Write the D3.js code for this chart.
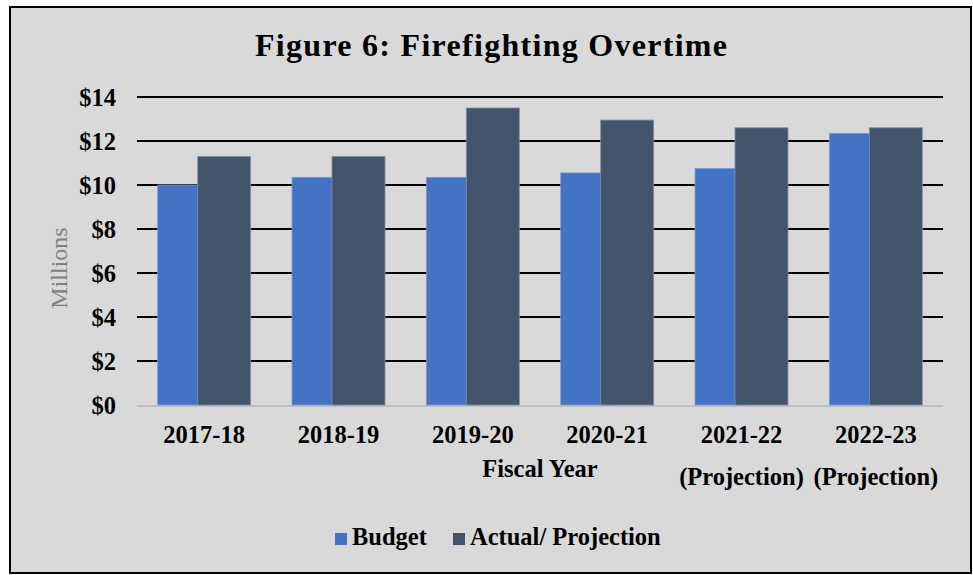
<!DOCTYPE html>
<html>
<head>
<meta charset="utf-8">
<script src="https://cdn.jsdelivr.net/npm/d3@7"></script>
<style>
  html, body { margin: 0; padding: 0; background: #ffffff; }
  svg { display: block; }
  text { font-family: "Liberation Serif", "Times New Roman", serif; }
</style>
</head>
<body>
<script>
const categories = ["2017-18", "2018-19", "2019-20", "2020-21", "2021-22", "2022-23"];
const categorySubLabels = ["", "", "", "", "(Projection)", "(Projection)"];
const budgetValues = [10.0, 10.35, 10.35, 10.55, 10.75, 12.35];
const actualValues = [11.3, 11.3, 13.5, 12.95, 12.6, 12.6];
const seriesNames = ["Budget", "Actual/ Projection"];
const yTickValues = [0, 2, 4, 6, 8, 10, 12, 14];

const W = 973, H = 575;
const colors = ["#4472c4", "#44546a"];
const FS = 24.5;

const svg = d3.select("body").append("svg").attr("width", W).attr("height", H);

// frame
svg.append("rect").attr("x", 10).attr("y", 7).attr("width", 961).attr("height", 566)
  .attr("fill", "#d9d9d9").attr("stroke", "#000").attr("stroke-width", 2);

const x0 = d3.scaleBand().domain(categories).range([137, 943]).paddingInner(0.308).paddingOuter(0.154);
const y = d3.scaleLinear().domain([0, 14]).range([405, 97]);

// gridlines
svg.append("g").selectAll("line").data(yTickValues.filter(v => v > 0)).join("line")
  .attr("x1", 137).attr("x2", 943)
  .attr("y1", d => y(d)).attr("y2", d => y(d))
  .attr("stroke", "#000").attr("stroke-width", 2);

// baseline
svg.append("line").attr("x1", 137).attr("x2", 943).attr("y1", y(0) + 1).attr("y2", y(0) + 1)
  .attr("stroke", "#bfbfbf").attr("stroke-width", 2);

// bars
const bw = x0.bandwidth();
const barW = bw * 0.57;
const rows = categories.map((c, i) => ({ c, b: budgetValues[i], a: actualValues[i] }));

const g = svg.append("g");
g.selectAll("rect.b").data(rows).join("rect").attr("class", "b")
  .attr("x", d => x0(d.c)).attr("width", barW)
  .attr("y", d => y(d.b)).attr("height", d => y(0) - y(d.b))
  .attr("fill", colors[0]).attr("stroke", "#7f9bd2").attr("stroke-width", 0.8);
g.selectAll("rect.a").data(rows).join("rect").attr("class", "a")
  .attr("x", d => x0(d.c) + bw - barW).attr("width", barW)
  .attr("y", d => y(d.a)).attr("height", d => y(0) - y(d.a))
  .attr("fill", colors[1]).attr("stroke", "#8090a5").attr("stroke-width", 0.8);

// y axis labels
const yAxis = d3.axisLeft(y).tickValues(yTickValues).tickFormat(d => "$" + d).tickSize(0).tickPadding(0);
const ya = svg.append("g").attr("transform", "translate(116,0)").call(yAxis);
ya.select(".domain").remove();
ya.selectAll("text").attr("font-family", "Liberation Serif, serif").attr("font-weight", "bold")
  .attr("font-size", FS).attr("fill", "#000").attr("dy", "0.35em");

// x axis labels
const xAxis = d3.axisBottom(x0).tickSize(0).tickPadding(0);
const xa = svg.append("g").call(xAxis);
xa.select(".domain").remove();
xa.selectAll(".tick text").remove();
xa.selectAll(".tick").each(function(d, i) {
  const t = d3.select(this);
  t.append("text").attr("y", 443).attr("text-anchor", "middle")
    .attr("font-family", "Liberation Serif, serif").attr("font-weight", "bold")
    .attr("font-size", FS).attr("fill", "#000").text(d);
  if (categorySubLabels[i]) {
    t.append("text").attr("y", 485).attr("text-anchor", "middle")
      .attr("font-family", "Liberation Serif, serif").attr("font-weight", "bold")
      .attr("font-size", FS).attr("fill", "#000").text(categorySubLabels[i]);
  }
});

// axis titles
svg.append("text").attr("x", 540).attr("y", 477).attr("text-anchor", "middle")
  .attr("font-weight", "bold").attr("font-size", FS).attr("fill", "#000").text("Fiscal Year");
svg.append("text").attr("transform", "translate(67,268) rotate(-90)").attr("text-anchor", "middle")
  .attr("font-size", 24).attr("fill", "#808080").text("Millions");

// title
svg.append("text").attr("x", 491).attr("y", 56).attr("text-anchor", "middle")
  .attr("font-weight", "bold").attr("font-size", 32).attr("fill", "#000")
  .attr("textLength", 472).attr("lengthAdjust", "spacing")
  .text("Figure 6: Firefighting Overtime");

// legend
const legX = [335, 453];
seriesNames.forEach((n, i) => {
  svg.append("rect").attr("x", legX[i]).attr("y", 533).attr("width", 12).attr("height", 12).attr("fill", colors[i]);
  svg.append("text").attr("x", legX[i] + 17).attr("y", 545).attr("font-weight", "bold")
    .attr("font-size", FS).attr("fill", "#000").text(n);
});
</script>
</body>
</html>
